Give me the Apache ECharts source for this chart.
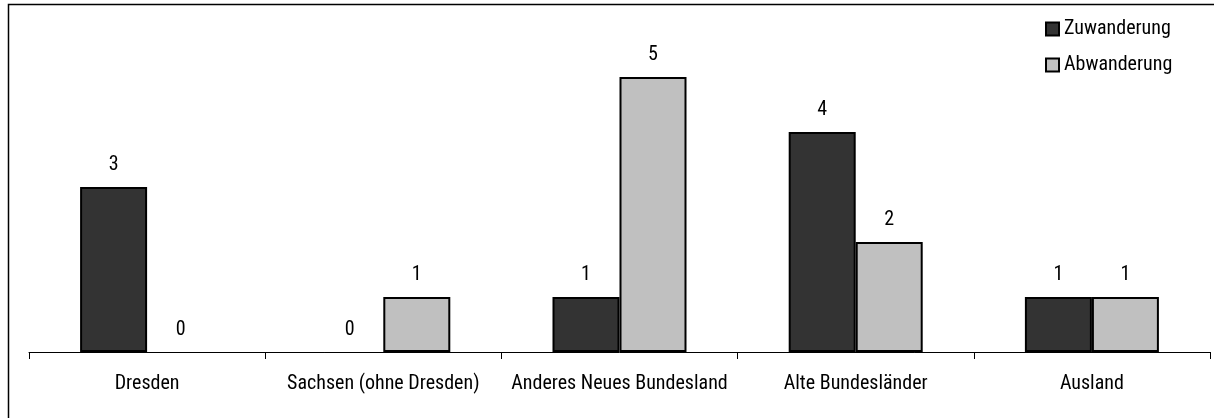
<!DOCTYPE html>
<html>
<head>
<meta charset="utf-8">
<script src="https://cdn.jsdelivr.net/npm/echarts@6/dist/echarts.min.js"></script>
<style>html,body{margin:0;padding:0;background:#fff}#c{width:1214px;height:418px}</style>
</head>
<body>
<div id="c"></div>
<script>
const categories = ['Dresden', 'Sachsen (ohne Dresden)', 'Anderes Neues Bundesland', 'Alte Bundesländer', 'Ausland'];
const zuwanderung = [3, 0, 1, 4, 1];
const abwanderung = [0, 1, 5, 2, 1];
const seriesNames = ['Zuwanderung', 'Abwanderung'];

const FONT = '"Roboto Condensed", "Open Sans Condensed", "Liberation Sans", sans-serif';
const FS = 20;
const toData = arr => arr.map(v => v === 0 ? {value: v, itemStyle: {borderWidth: 0}} : v);

const chart = echarts.init(document.getElementById('c'), null, {renderer: 'canvas'});
const labelCfg = {show: true, position: 'top', distance: 12, color: '#000', fontFamily: FONT, fontSize: FS};
chart.setOption({
  animation: false,
  backgroundColor: '#fff',
  textStyle: {fontFamily: FONT},
  graphic: [{
    type: 'rect', silent: true, z: -1,
    shape: {x: 8.5, y: 4.5, width: 1230, height: 430},
    style: {fill: 'none', stroke: '#000', lineWidth: 1.5}
  }],
  legend: {
    data: seriesNames,
    orient: 'vertical',
    left: 1045, top: 19,
    padding: 0,
    itemWidth: 13, itemHeight: 13, itemGap: 16,
    icon: 'rect',
    textStyle: {fontFamily: FONT, fontSize: FS, color: '#000'}
  },
  grid: {left: 29, right: 4, top: 22, bottom: 66, containLabel: false},
  xAxis: {
    type: 'category',
    data: categories,
    axisLine: {lineStyle: {color: '#000', width: 1}},
    axisTick: {show: true, length: 7, lineStyle: {color: '#000'}},
    axisLabel: {color: '#000', fontFamily: FONT, fontSize: FS, margin: 22, interval: 0}
  },
  yAxis: {
    type: 'value', min: 0, max: 6, interval: 1,
    show: false,
    splitLine: {show: false}
  },
  series: [
    {
      name: seriesNames[0], type: 'bar', data: toData(zuwanderung),
      barWidth: 67, barGap: '0%',
      itemStyle: {color: '#333333', borderColor: '#000', borderWidth: 2},
      label: labelCfg
    },
    {
      name: seriesNames[1], type: 'bar', data: toData(abwanderung),
      barWidth: 67,
      itemStyle: {color: '#c0c0c0', borderColor: '#000', borderWidth: 2},
      label: labelCfg
    }
  ]
});
</script>
</body>
</html>
